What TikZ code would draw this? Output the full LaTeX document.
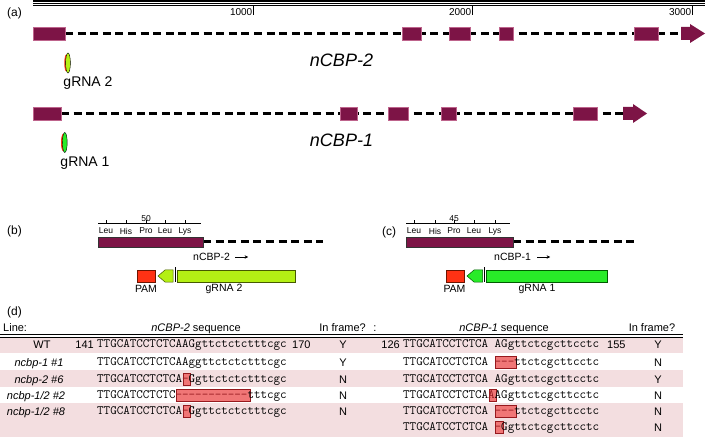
\documentclass[tikz,border=0pt]{standalone}
\usepackage{fontspec}
\setmainfont{Liberation Sans}
\usetikzlibrary{backgrounds,arrows.meta}
\definecolor{exonc}{RGB}{125,20,70}
\definecolor{exonedge}{RGB}{190,100,140}
\definecolor{bandc}{RGB}{243,222,224}
\definecolor{mutfill}{RGB}{240,118,118}
\definecolor{mutedge}{RGB}{150,25,30}
\definecolor{gtwo}{RGB}{180,240,20}
\definecolor{gtwoedge}{RGB}{70,90,0}
\definecolor{gone}{RGB}{40,235,40}
\definecolor{goneedge}{RGB}{0,90,0}
\definecolor{pamc}{RGB}{255,50,20}
\definecolor{pamedge}{RGB}{110,20,0}
\newcommand\fs[1]{\fontsize{#1}{#1}\selectfont}
\newcommand\mutbox[4]{\filldraw[mut] ({#1+#3*6.661-0.5},{#2-6}) rectangle ({#1+(#3+#4)*6.661+0.5},{#2+6});}
\newcommand\md[1]{\textcolor{mutedge}{#1}}
\begin{document}
\begin{tikzpicture}[x=1pt,y=-1pt,
  exon/.style={fill=exonc, draw=exonedge, line width=0.3pt, inner sep=0, outer sep=0, anchor=west},
  exonb/.style={fill=exonc, draw=black!80, line width=0.5pt, inner sep=0, outer sep=0, anchor=west},
  intron/.style={line width=3pt, dash pattern=on 8pt off 4.6pt},
  lbl/.style={inner sep=0, font=\fs{11}},
  panel/.style={inner sep=0, font=\fs{12}, anchor=west},
  aa/.style={inner sep=0, font=\fs{8.5}},
  small/.style={inner sep=0, font=\fs{10.5}},
  seq/.style={anchor=base west, inner sep=0, font=\fs{12.69}\ttfamily},
  mut/.style={fill=mutfill, draw=mutedge, line width=0.8pt},
  pambox/.style={fill=pamc, draw=pamedge, line width=0.5pt, inner sep=0, anchor=west, minimum width=18pt, minimum height=12pt},
  gtwobox/.style={fill=gtwo, draw=gtwoedge, line width=0.5pt, inner sep=0, anchor=west, minimum height=12pt},
  gonebox/.style={fill=gone, draw=goneedge, line width=0.5pt, inner sep=0, anchor=west, minimum height=12pt}
]
\useasboundingbox (0,0) rectangle (709,438);

% ---------- (a) ruler ----------
\node[panel] (pa) at (7,13) {(a)};
\draw[line width=1.5pt] (33,1) -- (705,1);
\draw[line width=0.6pt] (33,3.6) -- (705,3.6);
\draw[line width=1pt] (33,5.8) -- (705,5.8);
\foreach \tx/\tl in {253/1000,472/2000,692/3000}{
  \draw[line width=0.6pt] (\tx,6) -- (\tx,15);
  \node[inner sep=0, font=\fs{10}, anchor=east] (t\tl) at (\tx-0.5,12) {\tl};
}

% ---------- nCBP-2 gene ----------
\node[exon, minimum width=32pt, minimum height=13pt] (b2e1) at (33,33.5) {};
\node[exon, minimum width=19pt, minimum height=13pt] (b2e2) at (402,33.5) {};
\node[exon, minimum width=21pt, minimum height=13pt] (b2e3) at (449,33.5) {};
\node[exon, minimum width=14pt, minimum height=13pt] (b2e4) at (499,33.5) {};
\node[exon, minimum width=24pt, minimum height=13pt] (b2e5) at (634,33.5) {};
\fill[exonc] (681,27) -- (690,27) -- (690,24) -- (705,33.5) -- (690,43) -- (690,40) -- (681,40) -- cycle;
\coordinate (b2end) at (681,33.5);
\begin{scope}[on background layer]
  \draw[intron] (b2e1.east) -- (b2end);
\end{scope}
\node[inner sep=0, font=\fs{18}\itshape, anchor=base] (n2) at (341.5,67) {nCBP-2};
\fill[pamc] (66.3,63) ellipse (2 and 8.5);
\filldraw[fill=gtwo, draw=black, line width=0.4pt] (68,63) ellipse (2.4 and 10);
\node[inner sep=0, font=\fs{14}, anchor=base] (g2) at (88,87) {gRNA 2};

% ---------- nCBP-1 gene ----------
\node[exon, minimum width=28pt, minimum height=13pt] (b1e1) at (33,113.5) {};
\node[exon, minimum width=17pt, minimum height=13pt] (b1e2) at (340,113.5) {};
\node[exon, minimum width=20pt, minimum height=13pt] (b1e3) at (388,113.5) {};
\node[exon, minimum width=15pt, minimum height=13pt] (b1e4) at (441,113.5) {};
\node[exon, minimum width=24pt, minimum height=13pt] (b1e5) at (573,113.5) {};
\fill[exonc] (623,107) -- (633,107) -- (633,104) -- (647,113.5) -- (633,123) -- (633,120) -- (623,120) -- cycle;
\coordinate (b1end) at (623,113.5);
\begin{scope}[on background layer]
  \draw[intron] (b1e1.east) -- (b1end);
\end{scope}
\node[inner sep=0, font=\fs{18}\itshape, anchor=base] (n1) at (341.5,147) {nCBP-1};
\fill[pamc] (63,142.5) ellipse (2 and 8.5);
\filldraw[fill=gone, draw=black, line width=0.4pt] (64.8,142.5) ellipse (2.4 and 10);
\node[inner sep=0, font=\fs{14}, anchor=base] (g1) at (85,167) {gRNA 1};

% ---------- (b) ----------
\node[panel] (pb) at (7,231) {(b)};
\draw[line width=0.5pt] (98,223) -- (201,223);
\foreach \tx/\ta in {106/Leu,126/His,146/Pro,165/Leu,185/Lys}{
  \draw[line width=0.5pt] (\tx,223) -- (\tx,220);
  \node[aa] (b\tx) at (\tx,231) {\ta};
}
\node[aa] (b50) at (146,218.5) {50};
\node[exonb, minimum width=105pt, minimum height=10pt] (bx) at (98,242) {};
\coordinate (bxend) at (323,242);
\begin{scope}[on background layer]
  \draw[intron] (bx.east) -- (bxend);
\end{scope}
\node[small, anchor=west] (bn) at (193,257) {nCBP-2};
\draw[line width=0.7pt, -{Stealth[length=3.5pt,width=3.5pt]}] ([xshift=5pt]bn.east) -- ([xshift=18pt]bn.east);
\node[pambox] (bpam) at (137,276) {};
\node[small] (bpl) at (146,288.5) {PAM};
\filldraw[fill=gtwo, draw=gtwoedge, line width=0.5pt] (158,276) -- (165,270) -- (173,270) -- (173,282) -- (165,282) -- cycle;
\draw[line width=0.6pt] (175.3,267.5) -- (175.3,282);
\node[gtwobox, minimum width=118pt] (bg) at (177,276) {};
\node[small] (bgl) at (224,288.5) {gRNA 2};

% ---------- (c) ----------
\node[panel] (pc) at (382,232) {(c)};
\draw[line width=0.5pt] (406,223) -- (510,223);
\foreach \tx/\ta in {414/Leu,435/His,454/Pro,474/Leu,495/Lys}{
  \draw[line width=0.5pt] (\tx,223) -- (\tx,220);
  \node[aa] (c\tx) at (\tx,231) {\ta};
}
\node[aa] (c45) at (454,218.5) {45};
\node[exonb, minimum width=107pt, minimum height=10pt] (cx) at (406,242) {};
\coordinate (cxend) at (635,242);
\begin{scope}[on background layer]
  \draw[intron] (cx.east) -- (cxend);
\end{scope}
\node[small, anchor=west] (cn) at (494,257) {nCBP-1};
\draw[line width=0.7pt, -{Stealth[length=3.5pt,width=3.5pt]}] ([xshift=6pt]cn.east) -- ([xshift=19pt]cn.east);
\node[pambox] (cpam) at (445.5,276) {};
\node[small] (cpl) at (454.5,288.5) {PAM};
\filldraw[fill=gone, draw=goneedge, line width=0.5pt] (467,276) -- (474,270) -- (482.5,270) -- (482.5,282) -- (474,282) -- cycle;
\draw[line width=0.6pt] (484.3,267.5) -- (484.3,282);
\node[gonebox, minimum width=121pt] (cg) at (486,276) {};
\node[small] (cgl) at (537,288.5) {gRNA 1};

% ---------- (d) table ----------
\node[panel] (pd) at (7,312) {(d)};
\fill[bandc] (0,338) rectangle (683,353);
\fill[bandc] (0,370) rectangle (683,387);
\fill[bandc] (0,403) rectangle (683,437);
\draw[line width=1.4pt] (0,334.6) -- (683,334.6);
\draw[line width=0.6pt] (0,337.4) -- (683,337.4);

\node[lbl, anchor=base west] (hline) at (3,331) {Line:};
\node[lbl, anchor=base] (hs2) at (196,331) {\textit{nCBP-2} sequence};
\node[lbl, anchor=base east] (hf2) at (366,331) {In frame?};
\node[lbl, anchor=base] (hcol) at (375,331) {:};
\node[lbl, anchor=base] (hs1) at (504,331) {\textit{nCBP-1} sequence};
\node[lbl, anchor=base] (hf1) at (652,331) {In frame?};

% row labels
\node[lbl, anchor=base] (rwt) at (42,348) {WT};
\node[lbl, anchor=base] (r1) at (39,366) {\textit{ncbp-1 \#1}};
\node[lbl, anchor=base] (r6) at (39,383) {\textit{ncbp-2 \#6}};
\node[lbl, anchor=base] (r2) at (36,399) {\textit{ncbp-1/2 \#2}};
\node[lbl, anchor=base] (r8) at (36,415) {\textit{ncbp-1/2 \#8}};

% numbers
\node[lbl, anchor=base east] (n141) at (94,348) {141};
\node[lbl, anchor=base west] (n170) at (292,348) {170};
\node[lbl, anchor=base east] (n126) at (400,348) {126};
\node[lbl, anchor=base west] (n155) at (607,348) {155};

% mutation boxes
\mutbox{97}{379}{13}{1}
\mutbox{97}{395}{12}{11}
\mutbox{97}{411}{13}{1}
\mutbox{403}{362}{14}{3}
\mutbox{403}{395}{13}{1}
\mutbox{403}{411}{14}{3}
\mutbox{403}{427}{14}{1}

% left sequences
\node[seq] (sl1) at (97,347.5) {TTGCATCCTCTCAAGgttctctctttcgc};
\node[seq] (sl2) at (97,365.5) {TTGCATCCTCTCAAggttctctctttcgc};
\node[seq] (sl3) at (97,382.5) {TTGCATCCTCTCA\md{-}Ggttctctctttcgc};
\node[seq] (sl4) at (97,398.5) {TTGCATCCTCTC\md{-{}-{}-{}-{}-{}-{}-{}-{}-{}-{}-}tttcgc};
\node[seq] (sl5) at (97,414.5) {TTGCATCCTCTCA\md{-}Ggttctctctttcgc};

% right sequences
\node[seq] (sr1) at (403,347.5) {TTGCATCCTCTCA AGgttctcgcttcctc};
\node[seq] (sr2) at (403,365.5) {TTGCATCCTCTCA \md{-{}-{}-}ttctcgcttcctc};
\node[seq] (sr3) at (403,382.5) {TTGCATCCTCTCA AGgttctcgcttcctc};
\node[seq] (sr4) at (403,398.5) {TTGCATCCTCTCA\md{A}AGgttctcgcttcctc};
\node[seq] (sr5) at (403,414.5) {TTGCATCCTCTCA \md{-{}-{}-}ttctcgcttcctc};
\node[seq] (sr6) at (403,430.5) {TTGCATCCTCTCA \md{-}Ggttctcgcttcctc};

% in frame
\foreach \ry/\la/\lb [count=\i] in {348/Y/Y,366/Y/N,383/N/Y,399/N/N,415/N/N}{
  \node[lbl, anchor=base] (fl\i) at (343,\ry) {\la};
  \node[lbl, anchor=base] (fr\i) at (658,\ry) {\lb};
}
\node[lbl, anchor=base] (fr6) at (658,431) {N};
\end{tikzpicture}
\end{document}
